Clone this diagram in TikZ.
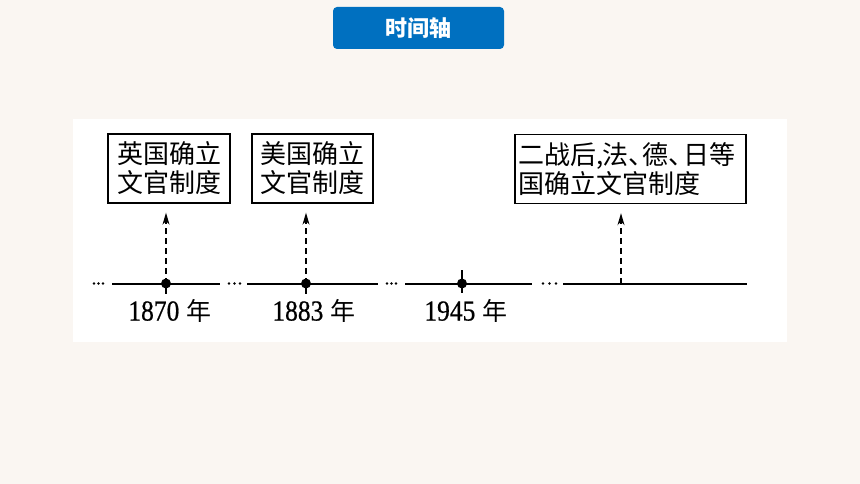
\documentclass[tikz,border=0pt]{standalone}
\usepackage{fontspec}
\setmainfont{Liberation Serif}
\newfontfamily\cjk{Noto Sans CJK SC}
\newfontfamily\yearfont{Liberation Serif}[FakeStretch=0.88,FakeBold=0.6]
\usetikzlibrary{arrows.meta}
\definecolor{bgcol}{HTML}{FAF6F2}
\definecolor{titleblue}{HTML}{0070C0}
\begin{document}
\begin{tikzpicture}[x=1pt,y=-1pt,
  evbox/.style={draw=black, line width=1.4pt, fill=white, inner sep=0pt,
    minimum height=69pt, font=\cjk\fontsize{26}{29}\selectfont},
  titlebox/.style={fill=titleblue, rounded corners=4pt, minimum width=171pt,
    minimum height=42pt, inner sep=0pt, text=white, font=\cjk\bfseries\fontsize{22}{22}\selectfont},
  tline/.style={line width=2pt, black},
  dasharrow/.style={line width=1.2pt, dash pattern=on 6pt off 4pt,
    -{Stealth[length=12pt,width=7pt,inset=3.5pt]}},
  yearlab/.style={inner sep=0pt, font=\fontsize{29}{29}\selectfont},
  ptdot/.style={circle, fill=black, inner sep=0pt, minimum size=10pt},
  elldot/.style={black}
]
\fill[bgcol] (0,0) rectangle (860,484);
\useasboundingbox (0,0) rectangle (860,484);
\fill[white] (73,119) rectangle (787,342);

\node[titlebox] (title) at (418.5,28) {时间轴};

% timeline segments
\coordinate (s1a) at (112,283.5); \coordinate (s1b) at (220,283.5);
\coordinate (s2a) at (247,283.5); \coordinate (s2b) at (378,283.5);
\coordinate (s3a) at (405,283.5); \coordinate (s3b) at (532,283.5);
\coordinate (s4a) at (563,283.5); \coordinate (s4b) at (747,283.5);
\draw[tline] (s1a) -- (s1b);
\draw[tline] (s2a) -- (s2b);
\draw[tline] (s3a) -- (s3b);
\draw[tline] (s4a) -- (s4b);

% ellipsis dots
\foreach \x in {94,98.5,103, 229,234.5,240, 387,391.5,396, 543,549.5,556}
  \fill[elldot] (\x,283.5) circle (1.4pt);

% points
\node[ptdot] (p1) at (166,283.5) {};
\node[ptdot] (p2) at (306,283.5) {};
\node[ptdot] (p3) at (462,283.5) {};
\coordinate (p4) at (621,283.5);
\draw[line width=1.3pt] (p1.center) -- ++(0,10);
\draw[line width=1.3pt] (p2.center) -- ++(0,10);
\draw[line width=1.3pt] (462,270) -- (462,293);

% boxes
\node[evbox, minimum width=122pt, align=center] (b1) at (169,168.5) {英国确立\\文官制度};
\node[evbox, minimum width=121pt, align=center] (b2) at (312.5,168.5) {美国确立\\文官制度};
\node[evbox, minimum width=231pt, text width=224pt, align=left] (b3) at (630.5,169)
  {二战后,\hspace{-0.05em}法、\kern-0.45em德、\kern-0.45em日等\\国确立文官制度};

% dashed arrows
\draw[dasharrow] (p1.center) -- ([yshift=-9pt]p1 |- b1.south);
\draw[dasharrow] (p2.center) -- ([yshift=-9pt]p2 |- b2.south);
\draw[dasharrow] (p4) -- ([yshift=-9pt]p4 |- b3.south);

% year labels
\node[yearlab] (y1) at (170,311) {{\yearfont 1870} {\cjk\fontsize{25}{25}\selectfont 年}};
\node[yearlab] (y2) at (314,311) {{\yearfont 1883} {\cjk\fontsize{25}{25}\selectfont 年}};
\node[yearlab] (y3) at (466,311) {{\yearfont 1945} {\cjk\fontsize{25}{25}\selectfont 年}};
\end{tikzpicture}
\end{document}
